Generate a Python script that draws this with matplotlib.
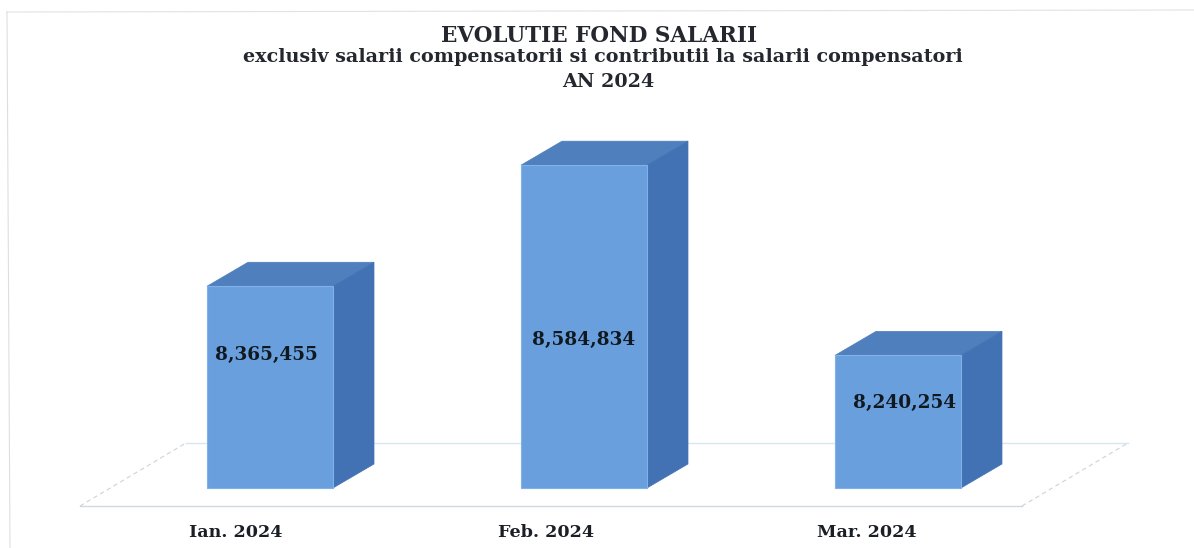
import matplotlib
matplotlib.use('Agg')
import matplotlib.pyplot as plt
from matplotlib.patches import Polygon

months = ['Ian. 2024', 'Feb. 2024', 'Mar. 2024']
values = [8365455, 8584834, 8240254]
labels = ['8,365,455', '8,584,834', '8,240,254']
title_lines = ['EVOLUTIE FOND SALARII',
               'exclusiv salarii compensatorii si contributii la salarii compensatori',
               'AN 2024']

base = 8000000
bar_width = 126 / 314
# size of one category step and of one unit of value, in pixels
px_x = 314
px_y = 0.000552
depth_x = 41 / px_x
depth_y = 24 / px_y

# label offsets in pixels from the bar centre and the baseline
label_dx = [-4, 0, 7]
label_dy = [133, 148, 85]
month_dx = [-34, -38, -31]

front_col = '#6a9fdd'
top_col = '#4f7fbc'
side_col = '#4272b4'

fig = plt.figure(figsize=(11.94, 5.48), dpi=100)
ax = fig.add_axes([0, 0, 1, 1])
ax.set_xlim(-270 / px_x, (1194 - 270) / px_x)
ax.set_ylim(base - 60 / px_y, base + 488 / px_y)
ax.axis('off')

# floor
floor_l = -190 / px_x
floor_r = 752 / px_x
floor_front = base - 18 / px_y
floor_back = base + 45 / px_y
floor_dx = 106 / px_x
ax.plot([floor_l, floor_r], [floor_front, floor_front], color='#ccd8e2', lw=1, zorder=1)
ax.plot([floor_l + floor_dx, floor_r + floor_dx], [floor_back, floor_back], color='#d8e6f0', lw=1, zorder=1)
ax.plot([floor_l, floor_l + floor_dx], [floor_front, floor_back], color='#cfd3d7', lw=0.8, ls=(0, (4, 3)), zorder=1)
ax.plot([floor_r, floor_r + floor_dx], [floor_front, floor_back], color='#cfd3d7', lw=0.8, ls=(0, (4, 3)), zorder=1)

# faint border of the scanned chart
ax.plot([7 / 1194, 1], [1 - 12 / 548, 1 - 10 / 548], transform=ax.transAxes, color='#e2e2e2', lw=0.8, zorder=1)
ax.plot([7 / 1194, 10 / 1194], [1 - 12 / 548, 0], transform=ax.transAxes, color='#dedede', lw=0.8, zorder=1)

for i, v in enumerate(values):
    x0 = i - bar_width / 2
    x1 = i + bar_width / 2
    ax.bar(i, v - base, width=bar_width, bottom=base, color=front_col, edgecolor='#7fb2e8', lw=0.8, zorder=3)
    ax.add_patch(Polygon([(x0, v), (x1, v), (x1 + depth_x, v + depth_y), (x0 + depth_x, v + depth_y)],
                         facecolor=top_col, edgecolor=top_col, lw=0.5, zorder=2))
    ax.add_patch(Polygon([(x1, base), (x1 + depth_x, base + depth_y), (x1 + depth_x, v + depth_y), (x1, v)],
                         facecolor=side_col, edgecolor=side_col, lw=0.5, zorder=2))
    ax.text(i + label_dx[i] / px_x, base + label_dy[i] / px_y, labels[i], ha='center', va='center',
            family='DejaVu Serif', fontweight='bold', fontsize=13.3, color='#101820', zorder=4)
    ax.text(i + month_dx[i] / px_x, base - 45 / px_y, months[i], ha='center', va='center',
            family='DejaVu Serif', fontweight='bold', fontsize=12.6, color='#1a1f26')

# title
for line, px, py, size in zip(title_lines, [599, 603, 608], [36, 57, 82], [15.5, 13.8, 13.8]):
    ax.text(px / 1194, 1 - py / 548, line, transform=ax.transAxes, ha='center', va='center',
            family='DejaVu Serif', fontweight='bold', fontsize=size, color='#24282e')

fig.savefig('out.png', dpi=100)
